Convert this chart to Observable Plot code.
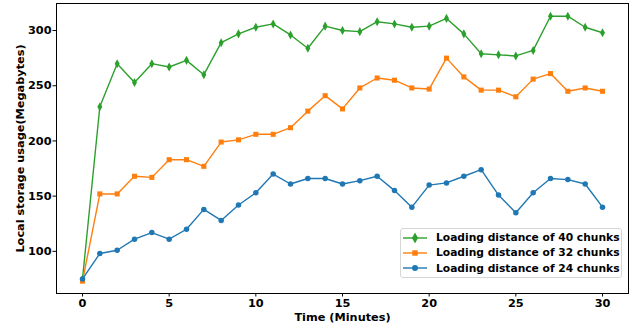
<!DOCTYPE html>
<html>
<head>
<meta charset="utf-8">
<script src="https://cdn.jsdelivr.net/npm/d3@7"></script>
<script src="https://cdn.jsdelivr.net/npm/@observablehq/plot@0.6"></script>
<style>
  html, body { margin: 0; padding: 0; background: #fff; }
  #wrap { position: relative; width: 640px; height: 327px; font-family: "DejaVu Sans", sans-serif; }
  #legend { position: absolute; left: 400px; top: 228px; width: 222px; height: 50px;
    border: 1px solid #d6d6d6; border-radius: 3px; background: rgba(255,255,255,0.85);
    box-sizing: border-box; font-weight: bold; font-size: 10.7px; color: #000; }
  .row { position: absolute; left: 2px; height: 16px; display: flex; align-items: center; }
  .row svg { margin-right: 8px; }
</style>
</head>
<body>
<div id="wrap"><div id="legend"></div></div>
<script>
const minutes = d3.range(0, 31);
const series40 = [75, 231, 270, 253, 270, 267, 273, 260, 289, 297, 303, 306, 296, 284, 304, 300, 299, 308, 306, 303, 304, 311, 297, 279, 278, 277, 282, 313, 313, 303, 298];
const series32 = [73, 152, 152, 168, 167, 183, 183, 177, 199, 201, 206, 206, 212, 227, 241, 229, 248, 257, 255, 248, 247, 275, 258, 246, 246, 240, 256, 261, 245, 248, 245];
const series24 = [75, 98, 101, 111, 117, 111, 120, 138, 128, 142, 153, 170, 161, 166, 166, 161, 164, 168, 155, 140, 160, 162, 168, 174, 151, 135, 153, 166, 165, 161, 140];
const seriesNames = ["Loading distance of 40 chunks", "Loading distance of 32 chunks", "Loading distance of 24 chunks"];
const seriesColors = ["#2ca02c", "#ff7f0e", "#1f77b4"];
const xTicks = [0, 5, 10, 15, 20, 25, 30];
const yTicks = [100, 150, 200, 250, 300];

const thinDiamond = {
  draw(context, size) {
    const r = Math.sqrt(size) * 0.75;
    const w = r * 0.55;
    context.moveTo(0, -r);
    context.lineTo(w, 0);
    context.lineTo(0, r);
    context.lineTo(-w, 0);
    context.closePath();
  }
};
const symbols = [thinDiamond, "square", "circle"];
const symbolSizes = [6.2, 5.2, 5.0];

const allSeries = [series40, series32, series24];
const rows = [];
allSeries.forEach((vals, si) => {
  vals.forEach((v, i) => rows.push({series: seriesNames[si], si, x: minutes[i], y: v}));
});

const marks = [Plot.frame({stroke: "#000", strokeWidth: 1})];
allSeries.forEach((vals, si) => {
  const data = rows.filter(d => d.si === si);
  marks.push(Plot.line(data, {x: "x", y: "y", stroke: seriesColors[si], strokeWidth: 1.4}));
  marks.push(Plot.dot(data, {x: "x", y: "y", fill: seriesColors[si], stroke: "none", symbol: () => symbols[si], r: symbolSizes[si] / 2 * 1.1}));
});

const chart = Plot.plot({
  width: 640,
  height: 327,
  marginLeft: 56,
  marginRight: 12,
  marginTop: 3,
  marginBottom: 34,
  style: {fontFamily: "DejaVu Sans", fontWeight: "bold", fontSize: "11.3px", color: "#000", background: "transparent"},
  x: {domain: [-1.5, 31.5]},
  y: {domain: [61.8, 324.5]},
  symbol: {type: "identity"},
  marks: [
    Plot.axisX({ticks: xTicks, tickSize: 3.5, tickPadding: 2, label: "Time (Minutes)", labelAnchor: "center", labelArrow: "none", labelOffset: 27, fontSize: 11.3}),
    Plot.axisY({ticks: yTicks, tickSize: 3.5, tickPadding: 1.5, label: "Local storage usage(Megabytes)", labelAnchor: "center", labelArrow: "none", labelOffset: 41, fontSize: 11.3}),
    ...marks
  ]
});
document.getElementById("wrap").prepend(chart);

// legend
const legend = document.getElementById("legend");
const rowTops = [0.5, 15.8, 31];
seriesNames.forEach((name, i) => {
  const row = document.createElement("div");
  row.className = "row";
  row.style.top = rowTops[i] + "px";
  const svg = d3.create("svg").attr("width", 25).attr("height", 16);
  svg.append("line").attr("x1", 0).attr("x2", 24).attr("y1", 8).attr("y2", 8).attr("stroke", seriesColors[i]).attr("stroke-width", 1.4);
  const sym = i === 0 ? thinDiamond : (i === 1 ? d3.symbolSquare : d3.symbolCircle);
  svg.append("path").attr("transform", "translate(12,8)").attr("fill", seriesColors[i])
    .attr("d", d3.symbol(sym, i === 0 ? 55 : (i === 1 ? 30 : 28))());
  row.appendChild(svg.node());
  const span = document.createElement("span");
  span.textContent = name;
  row.appendChild(span);
  legend.appendChild(row);
});
</script>
</body>
</html>
